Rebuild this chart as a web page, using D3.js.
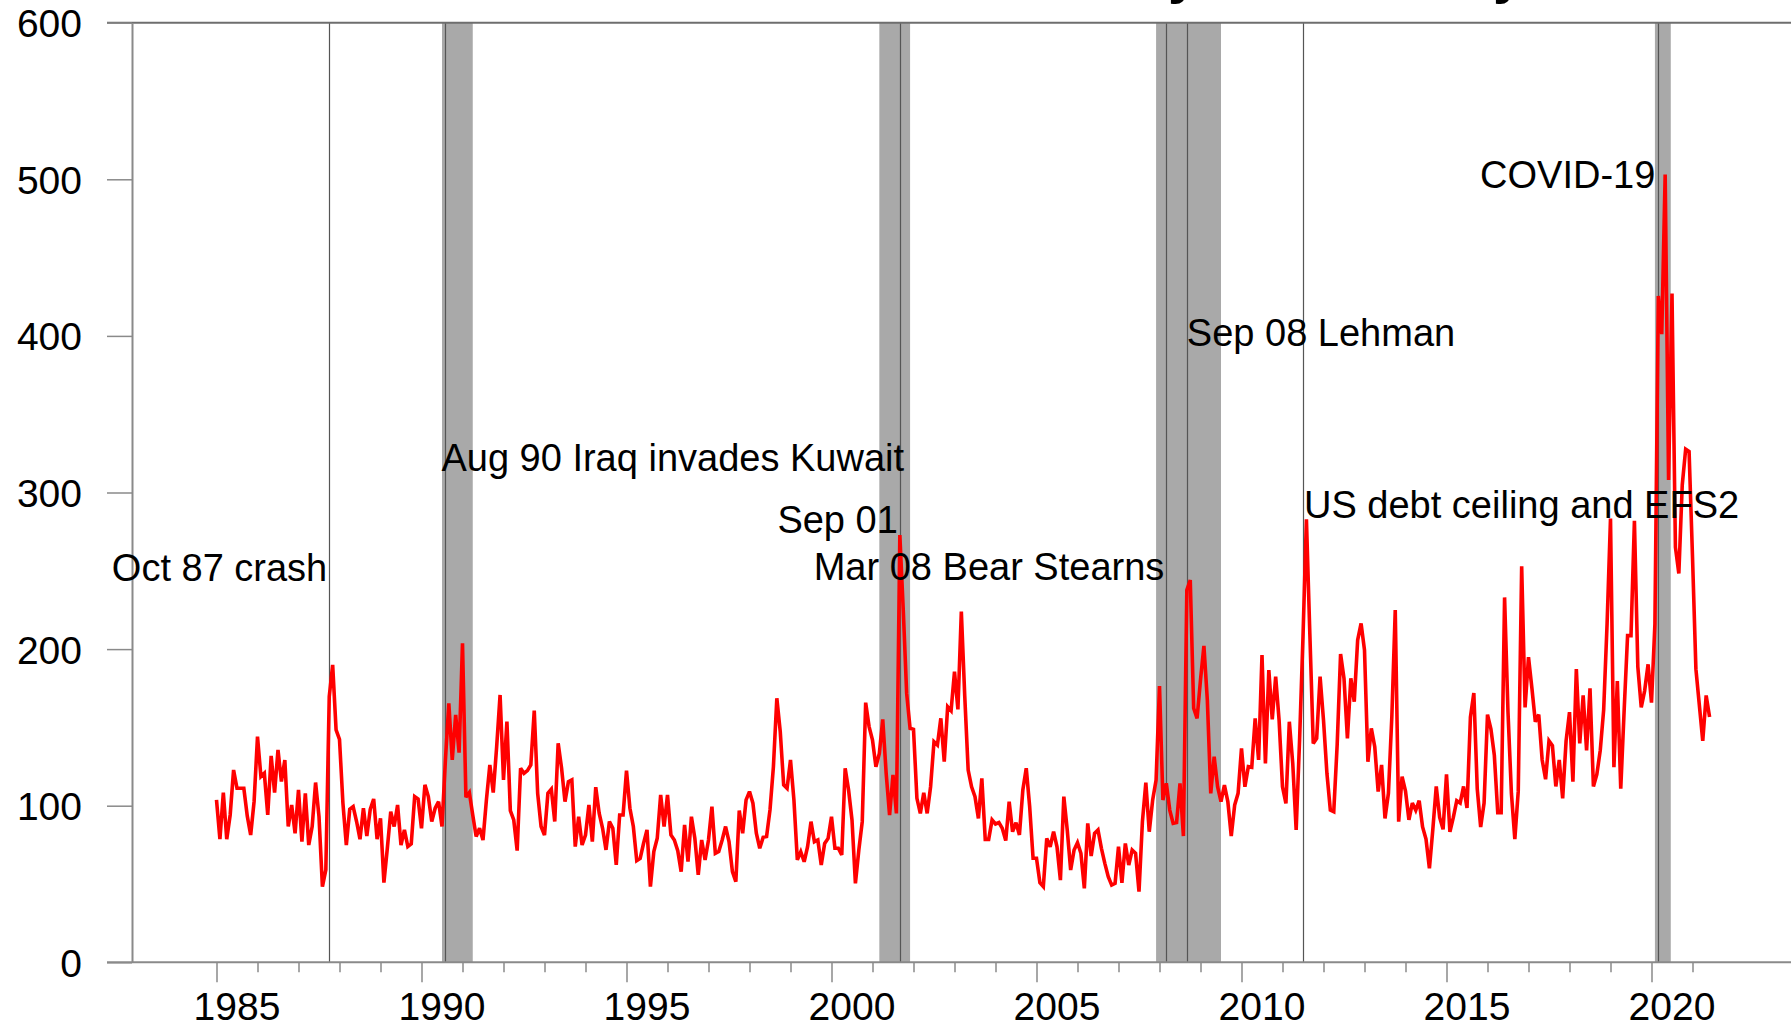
<!DOCTYPE html>
<html>
<head>
<meta charset="utf-8">
<script src="https://cdn.jsdelivr.net/npm/d3@7/dist/d3.min.js"></script>
<style>
  html, body { margin: 0; padding: 0; background: #fff; overflow: hidden; }
  svg { display: block; font-family: "Liberation Sans", Arial, Helvetica, sans-serif; }
</style>
</head>
<body>
<svg id="chart" width="1791" height="1028"></svg>
<script>
// ---- data -------------------------------------------------------------
const titleText = "Economic Policy Uncertainty Index";
const firstYear = 1985;   // series starts January of this year, monthly

const epu = [
  103.7, 78.6, 108.4, 78.6, 94.1, 122.8, 111.1, 111.1, 111.1, 93.5, 81.3, 102.6,
  144.1, 118.6, 120.7, 94.1, 131.8, 108.4, 135.6, 115.4, 129.2, 86.7, 100.5, 82.4,
  110.1, 77.1, 107.9, 74.9, 86.7, 114.8, 93.0, 48.3, 59.0, 169.7, 189.9, 148.4,
  142.4, 101.6, 74.9, 97.7, 99.4, 89.9, 78.6, 98.4, 80.7, 97.7, 104.3, 78.6,
  92.0, 50.9, 72.8, 96.2, 86.7, 100.5, 74.9, 84.5, 73.9, 75.6, 105.8, 104.3,
  85.6, 113.3, 105.8, 89.9, 98.4, 102.6, 86.7, 129.2, 165.4, 129.2, 158.0, 133.9,
  203.7, 105.4, 108.4, 94.1, 80.3, 85.6, 78.1, 103.7, 126.0, 108.4, 137.7, 170.7,
  116.5, 153.7, 96.9, 90.9, 71.3, 123.9, 120.7, 122.4, 126.0, 160.7, 107.9, 86.7,
  81.3, 107.9, 110.5, 89.9, 139.9, 123.9, 102.6, 115.4, 116.5, 73.9, 93.0, 74.9,
  81.3, 100.5, 77.1, 111.8, 95.2, 85.6, 71.8, 89.9, 85.6, 62.2, 94.1, 94.1,
  122.4, 98.4, 86.7, 64.9, 66.4, 76.0, 84.5, 48.3, 70.7, 79.2, 106.9, 86.7,
  106.9, 81.3, 78.1, 71.3, 57.9, 87.7, 64.3, 93.0, 79.2, 55.8, 78.1, 65.4,
  78.1, 99.4, 69.6, 70.7, 78.1, 86.7, 77.1, 57.9, 51.5, 96.9, 82.4, 103.7,
  109.0, 101.6, 82.4, 72.8, 79.8, 80.3, 97.3, 125.0, 168.6, 147.3, 113.3, 111.1,
  129.2, 103.7, 65.4, 70.6, 64.2, 73.8, 89.8, 77.0, 78.1, 62.1, 75.9, 79.1,
  93.0, 72.8, 72.8, 68.5, 123.9, 110.0, 90.9, 50.4, 71.7, 89.8, 165.8, 150.5,
  141.9, 124.9, 133.4, 155.1, 120.7, 94.0, 119.6, 95.1, 272.8, 225.0, 171.7, 149.4,
  148.8, 104.7, 95.1, 108.3, 95.1, 112.1, 140.9, 138.8, 155.8, 128.1, 163.2, 160.7,
  185.6, 161.5, 223.9, 170.0, 122.8, 112.1, 105.8, 91.9, 117.5, 78.5, 78.5, 90.9,
  88.3, 89.2, 85.5, 77.7, 102.6, 83.4, 89.2, 81.3, 110.0, 123.9, 99.4, 66.4,
  66.4, 50.8, 48.3, 79.1, 73.8, 83.4, 73.8, 52.5, 105.8, 84.5, 58.9, 71.7,
  76.4, 69.6, 47.2, 88.7, 67.9, 82.3, 84.5, 72.8, 63.2, 54.7, 49.3, 50.4,
  73.8, 50.8, 75.9, 62.1, 71.7, 69.6, 45.1, 89.8, 114.7, 83.4, 103.6, 116.4,
  176.4, 103.6, 114.3, 97.2, 88.7, 89.2, 114.3, 80.6, 237.7, 244.1, 162.2, 155.8,
  180.3, 202.0, 167.5, 107.9, 131.3, 112.1, 102.6, 113.2, 102.6, 80.6, 100.4, 107.9,
  136.6, 112.1, 124.9, 124.5, 155.8, 129.2, 196.2, 127.0, 186.6, 155.1, 182.4, 154.7,
  112.1, 101.5, 153.6, 127.0, 84.5, 142.0, 208.0, 282.9, 210.0, 139.8, 143.0, 182.4,
  154.7, 120.7, 97.2, 96.2, 138.8, 196.9, 181.3, 143.0, 181.3, 166.4, 205.8, 216.4,
  199.4, 128.1, 149.4, 137.7, 109.0, 126.0, 91.9, 107.9, 156.8, 224.9, 89.8, 118.5,
  109.3, 91.0, 101.7, 97.1, 103.2, 86.4, 78.7, 60.0, 84.9, 112.3, 92.5, 84.9,
  120.0, 83.3, 92.5, 103.2, 101.7, 112.3, 98.6, 156.6, 171.9, 110.8, 86.4, 101.7,
  158.2, 149.0, 132.2, 95.5, 95.5, 233.0, 159.7, 107.8, 78.7, 109.3, 252.9, 162.8,
  194.8, 175.0, 153.6, 158.2, 129.2, 116.9, 141.4, 138.3, 112.3, 129.2, 104.7, 141.4,
  159.7, 115.4, 187.2, 139.8, 170.4, 135.3, 175.0, 112.3, 120.0, 135.3, 161.2, 216.2,
  283.4, 124.6, 179.6, 110.8, 161.2, 208.6, 208.6, 281.9, 188.7, 162.8, 173.5, 190.3,
  165.8, 216.2, 425.5, 401.1, 503.0, 308.0, 427.0, 265.1, 248.3, 304.8, 327.7, 326.2,
  259.0, 187.2, 164.3, 141.4, 170.4, 156.6
];

const yTickValues = [0, 100, 200, 300, 400, 500, 600];
const yearTickValues = d3.range(1985, 2022);
const yearLabelValues = [1985, 1990, 1995, 2000, 2005, 2010, 2015, 2020];

// recession bands (decimal years)
const recessionStart = [1990.5, 2001.1667, 2007.9167, 2020.0833];
const recessionEnd   = [1991.25, 2001.9167, 2009.5, 2020.47];

// event markers (decimal years) and their captions
const eventDates  = [1987.75, 1990.5833, 2001.6667, 2008.1667, 2008.6667, 2011.5, 2020.1667];
const eventLabels = ["Oct 87 crash", "Aug 90 Iraq invades Kuwait", "Sep 01",
                     "Mar 08 Bear Stearns", "Sep 08 Lehman", "US debt ceiling and EFS2", "COVID-19"];

// ---- layout -----------------------------------------------------------
const W = 1791, H = 1028;
const svg = d3.select("#chart");

const x = d3.scaleLinear().domain([1985, 2020]).range([216.5, 1651.5]);
const y = d3.scaleLinear().domain([0, 600]).range([962.3, 22.7]);

const axisX0 = 132;       // vertical axis position
const axisGrey = "#8a8a8a";

// caption placement: anchor side, nudge and baseline level (in index units)
const captionLayout = [
  { anchor: "end",   dx: -2, level: 243.5 },
  { anchor: "start", dx: -4, level: 314.0 },
  { anchor: "end",   dx: -2, level: 274.0 },
  { anchor: "end",   dx: -2, level: 244.0 },
  { anchor: "start", dx: 0,  level: 393.5 },
  { anchor: "start", dx: 1,  level: 284.0 },
  { anchor: "end",   dx: -3, level: 494.5 }
];

const series = epu.map((v, i) => ({ t: firstYear + i / 12, v }));

// ---- title (sits above the frame) ------------------------------------
const title = svg.append("text")
  .attr("font-weight", "bold")
  .attr("font-size", 56)
  .attr("fill", "#000")
  .attr("y", -8)
  .text(titleText);
{
  const node = title.node();
  const i1 = titleText.indexOf("y");
  const i2 = titleText.indexOf("y", i1 + 1);
  const gap = node.getSubStringLength(0, i2) - node.getSubStringLength(0, i1);
  const size = 56 * 325 / gap;
  title.attr("font-size", size);
  const off = node.getSubStringLength(0, i1);
  title.attr("x", 1168 - off);
}

// ---- recession shading -----------------------------------------------
svg.append("g")
  .selectAll("rect")
  .data(recessionStart.map((s, i) => [s, recessionEnd[i]]))
  .join("rect")
  .attr("x", d => x(d[0]))
  .attr("width", d => x(d[1]) - x(d[0]))
  .attr("y", y(600))
  .attr("height", y(0) - y(600))
  .attr("fill", "#a9a9a9");

// ---- event lines ------------------------------------------------------
svg.append("g")
  .selectAll("line")
  .data(eventDates)
  .join("line")
  .attr("x1", d => Math.round(x(d)) + 0.5)
  .attr("x2", d => Math.round(x(d)) + 0.5)
  .attr("y1", y(600))
  .attr("y2", y(0))
  .attr("stroke", "#555")
  .attr("stroke-width", 1.2);

// ---- frame line along the top ----------------------------------------
svg.append("line")
  .attr("x1", 107).attr("x2", W)
  .attr("y1", y(600)).attr("y2", y(600))
  .attr("stroke", "#6e6e6e").attr("stroke-width", 2);

// ---- y axis -----------------------------------------------------------
const yAxis = d3.axisLeft(y)
  .tickValues(yTickValues)
  .tickSize(25)
  .tickSizeOuter(0)
  .tickPadding(0)
  .tickFormat(d3.format("d"));

const gy = svg.append("g")
  .attr("transform", `translate(${axisX0},0)`)
  .call(yAxis);
gy.select(".domain").attr("stroke", axisGrey).attr("stroke-width", 2);
gy.selectAll(".tick line").attr("stroke", axisGrey).attr("stroke-width", 1.5);
gy.selectAll(".tick text")
  .attr("x", -50)
  .attr("dy", "0.36em")
  .attr("font-size", 39)
  .attr("font-family", "'Liberation Sans', Arial, sans-serif")
  .attr("fill", "#000");

// ---- x axis -----------------------------------------------------------
const xAxis = d3.axisBottom(x)
  .tickValues(yearTickValues)
  .tickSize(10)
  .tickSizeOuter(0)
  .tickFormat("");

const gx = svg.append("g")
  .attr("transform", `translate(0,${y(0)})`)
  .call(xAxis);
gx.select(".domain").remove();
gx.append("line")
  .attr("x1", 107).attr("x2", W)
  .attr("y1", 0).attr("y2", 0)
  .attr("stroke", axisGrey).attr("stroke-width", 2);
gx.selectAll(".tick line")
  .attr("stroke", axisGrey)
  .attr("stroke-width", 1.5)
  .attr("y2", d => (d % 5 === 0 ? 20 : 10));

svg.append("g")
  .selectAll("text")
  .data(yearLabelValues)
  .join("text")
  .attr("x", d => x(d + 0.5))
  .attr("y", 1020)
  .attr("text-anchor", "middle")
  .attr("font-size", 39)
  .attr("fill", "#000")
  .text(d => d);

// ---- series line ------------------------------------------------------
const line = d3.line()
  .x(d => x(d.t))
  .y(d => y(d.v));

svg.append("path")
  .datum(series)
  .attr("d", line)
  .attr("fill", "none")
  .attr("stroke", "#ff0000")
  .attr("stroke-width", 3.6)
  .attr("stroke-linejoin", "miter")
  .attr("stroke-miterlimit", 3);

// ---- event captions ---------------------------------------------------
svg.append("g")
  .selectAll("text")
  .data(eventLabels.map((label, i) => ({ label, t: eventDates[i], ...captionLayout[i] })))
  .join("text")
  .attr("x", d => x(d.t) + d.dx)
  .attr("y", d => y(d.level))
  .attr("text-anchor", d => d.anchor)
  .attr("font-size", 38)
  .attr("fill", "#000")
  .text(d => d.label);
</script>
</body>
</html>
